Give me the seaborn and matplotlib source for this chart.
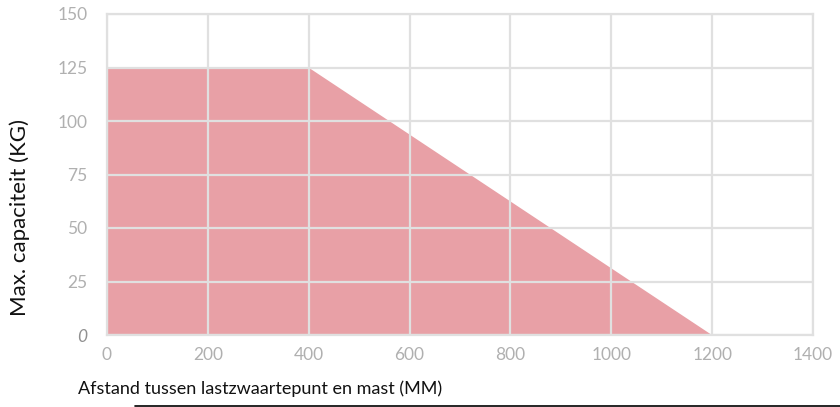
import numpy as np
import matplotlib
matplotlib.use("Agg")
import matplotlib.pyplot as plt
import seaborn as sns
from matplotlib.lines import Line2D

# data
afstand = [0, 400, 1200]          # mm
capaciteit = [125, 125, 0]        # kg
x_ticks = [0, 200, 400, 600, 800, 1000, 1200, 1400]
y_ticks = [0, 25, 50, 75, 100, 125, 150]

sns.set_theme(style="white")
plt.rcParams['font.family'] = ['Lato', 'DejaVu Sans']

fig = plt.figure(figsize=(8.4, 4.07), dpi=100)
ax = fig.add_axes([107/840, 72/407, 706/840, 321/407])

sns.lineplot(x=afstand, y=capaciteit, ax=ax, color="#e8a0a6", linewidth=0, zorder=1)
ax.fill_between(afstand, capaciteit, 0, color="#e8a0a6", linewidth=0, zorder=1)

ax.set_xlim(0, 1400)
ax.set_ylim(0, 150)
ax.set_xticks(x_ticks)
ax.set_yticks(y_ticks)
ax.grid(True, color="#e0e0e0", linewidth=1.6, zorder=2)
ax.set_axisbelow(False)
for s in ax.spines.values():
    s.set_color("#e0e0e0")
    s.set_linewidth(1.6)
    s.set_zorder(3)

ax.tick_params(axis="both", length=0, labelsize=12.5, labelcolor="#b0b0b0")
ax.tick_params(axis="x", pad=9)
ax.tick_params(axis="y", pad=14)
ax.set_xticklabels([str(v) for v in x_ticks])
ax.set_yticklabels([str(v) for v in y_ticks])
lbl0 = ax.get_yticklabels()[0]
lbl0.set_style("italic")
lbl0.set_color("#909090")

ax.set_xlabel("")
ax.set_ylabel("")
fig.text(78/840, 1 - 389/407, "Afstand tussen lastzwaartepunt en mast (MM)",
         fontsize=13, color="#111111", ha="left", va="center")
fig.text(20/840, 1 - 218/407, "Max. capaciteit (KG)", fontsize=16,
         color="#111111", rotation=90, ha="center", va="center")
fig.add_artist(Line2D([135/840, 1.0], [1.5/407, 1.5/407], color="black", linewidth=1.2))

fig.savefig("out.png", dpi=100)
